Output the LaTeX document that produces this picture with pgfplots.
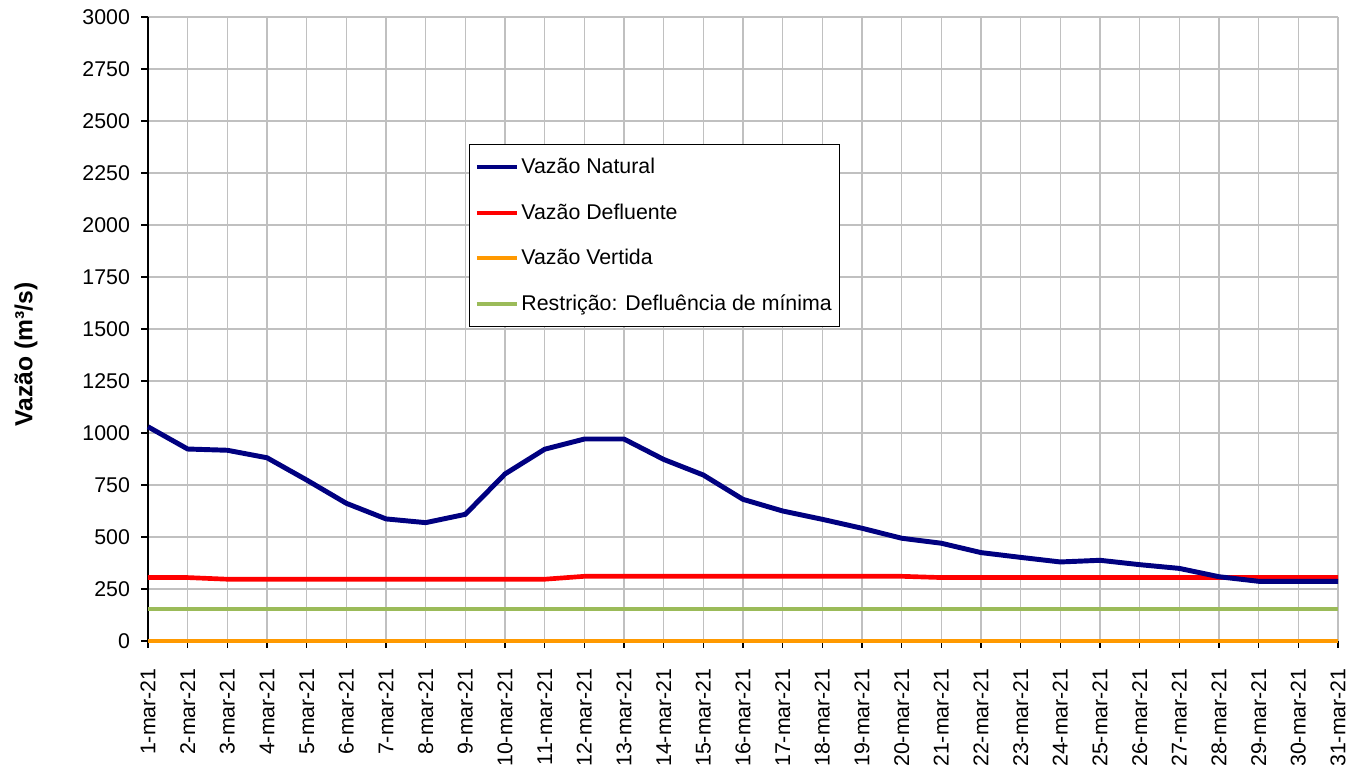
\documentclass[border=0pt]{standalone}
\usepackage{pgfplots}
\pgfplotsset{compat=1.18}
\usepackage{pgfplotstable}
\usepackage{fontspec}
\setmainfont{Liberation Sans}
\definecolor{cnat}{RGB}{0,0,128}
\definecolor{cdef}{RGB}{255,0,0}
\definecolor{cver}{RGB}{255,153,0}
\definecolor{cres}{RGB}{155,187,89}
\definecolor{cgrid}{RGB}{192,192,192}
\pgfplotstableread{
day nat def ver res
1 1030 305 0 155
2 923 305 0 155
3 917 297 0 155
4 881 297 0 155
5 774 297 0 155
6 662 297 0 155
7 587 297 0 155
8 569 297 0 155
9 609 297 0 155
10 803 297 0 155
11 922 297 0 155
12 971 311 0 155
13 971 311 0 155
14 873 311 0 155
15 798 311 0 155
16 681 311 0 155
17 625 311 0 155
18 585 311 0 155
19 542 311 0 155
20 494 311 0 155
21 470 305 0 155
22 425 305 0 155
23 402 305 0 155
24 380 305 0 155
25 388 305 0 155
26 367 305 0 155
27 349 305 0 155
28 309 305 0 155
29 287 305 0 155
30 287 305 0 155
31 287 305 0 155
}\datatable
\begin{document}
\begin{tikzpicture}
\begin{axis}[
  scale only axis,
  width=892.5pt, height=468pt,
  xmin=1, xmax=31, ymin=0, ymax=3000,
  clip=false,
  xtick={1,...,31},
  xticklabels={1-mar-21,2-mar-21,3-mar-21,4-mar-21,5-mar-21,6-mar-21,7-mar-21,8-mar-21,9-mar-21,10-mar-21,11-mar-21,12-mar-21,13-mar-21,14-mar-21,15-mar-21,16-mar-21,17-mar-21,18-mar-21,19-mar-21,20-mar-21,21-mar-21,22-mar-21,23-mar-21,24-mar-21,25-mar-21,26-mar-21,27-mar-21,28-mar-21,29-mar-21,30-mar-21,31-mar-21},
  ytick={0,250,...,3000},
  xticklabel style={rotate=90, anchor=east, font=\fontsize{16}{17}\selectfont},
  yticklabel style={font=\fontsize{16}{17}\selectfont},
  xticklabel shift=12pt,
  yticklabel shift=5pt,
  /pgf/number format/assume math mode=true,
  /pgf/number format/1000 sep={},
  grid=major,
  grid style={cgrid, line width=0.9pt},
  axis x line*=bottom, axis y line*=left,
  axis line style={black, line width=0.9pt},
  tick align=outside,
  major tick length=5pt,
  tick style={black, line width=0.8pt},
  ylabel={\textbf{Vazão (m³/s)}},
  ylabel style={font=\fontsize{18.5}{19}\selectfont, at={(axis description cs:-0.1025,0.459)}, anchor=center},
  legend style={at={(axis description cs:0.2697,0.7965)}, anchor=north west, draw=black, line width=0.8pt,
    font=\fontsize{16}{17}\selectfont, row sep=17pt, inner xsep=4pt, inner ysep=8.5pt, cells={anchor=west}},
  legend image code/.code={\draw[#1] (3pt,0pt) -- (33pt,0pt);},
]
\addplot[cver, line width=3pt, forget plot] table[x=day, y=ver] {\datatable};
\addplot[cres, line width=2.7pt, forget plot] table[x=day, y=res] {\datatable};
\addplot[cdef, line width=3.5pt, forget plot] table[x=day, y=def] {\datatable};
\addplot[cnat, line width=3.7pt, forget plot] table[x=day, y=nat] {\datatable};
\addlegendimage{cnat, line width=3pt}
\addlegendentry{Vazão Natural}
\addlegendimage{cdef, line width=3pt}
\addlegendentry{Vazão Defluente}
\addlegendimage{cver, line width=3pt}
\addlegendentry{Vazão Vertida}
\addlegendimage{cres, line width=3pt}
\addlegendentry{Restrição: Defluência de mínima}
\end{axis}
\pgfresetboundingbox
\path (current axis.south west) ++(-111pt,-92.25pt) rectangle (current axis.north east) ++(21.75pt,12.75pt);
\end{tikzpicture}
\end{document}
